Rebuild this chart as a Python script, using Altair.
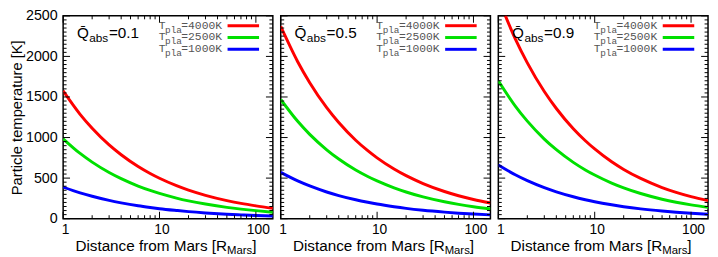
import altair as alt
import pandas as pd

# distances (R_Mars) at which curves were read
r_vals = [1, 1.5, 2, 3, 4, 6, 8, 10, 15, 20, 30, 50, 70, 100, 150]

# Q_abs = 0.1
q01_4000 = [1575, 1286, 1114, 909, 788, 643, 557, 498, 407, 352, 288, 223, 188, 158, 129]
q01_2500 = [985, 804, 697, 569, 493, 402, 348, 311, 254, 220, 180, 139, 118, 99, 80]
q01_1000 = [390, 318, 276, 225, 195, 159, 138, 123, 101, 87, 71, 55, 47, 39, 32]
# Q_abs = 0.5
q05_4000 = [2370, 1935, 1676, 1368, 1185, 967, 838, 749, 612, 530, 433, 335, 283, 237, 193]
q05_2500 = [1470, 1200, 1039, 849, 735, 600, 520, 465, 380, 329, 268, 208, 176, 147, 120]
q05_1000 = [570, 465, 403, 329, 285, 233, 202, 180, 147, 127, 104, 81, 68, 57, 47]
# Q_abs = 0.9
q09_4000 = [2715, 2217, 1920, 1567, 1358, 1108, 960, 859, 701, 607, 496, 384, 325, 272, 222]
q09_2500 = [1700, 1388, 1202, 981, 850, 694, 601, 538, 439, 380, 310, 240, 203, 170, 139]
q09_1000 = [662, 541, 468, 382, 331, 270, 234, 209, 171, 148, 121, 94, 79, 66, 54]

q_labels = ["0.1", "0.5", "0.9"]
tpla_labels = ["4000K", "2500K", "1000K"]
colors = ["#ff0000", "#00e000", "#0000ff"]
y_major = [0, 500, 1000, 1500, 2000, 2500]
y_minor = [v for v in range(50, 2500, 50) if v % 500 != 0]
x_major = [1, 10, 100]
x_minor = [2, 3, 4, 5, 6, 7, 8, 9, 20, 30, 40, 50, 60, 70, 80, 90]

W, H = 213, 206
FONT = "Liberation Sans"
MONO = "Liberation Mono"


def txt(text, x, y, size, font=FONT, color="black", align="left", baseline="alphabetic"):
    return alt.Chart(pd.DataFrame({"a": [0]})).mark_text(
        text=text, font=font, fontSize=size, color=color, align=align, baseline=baseline
    ).encode(x=alt.value(x), y=alt.value(y))


def panel(qlab, series, first):
    rows = []
    for name, vals in zip(tpla_labels, series):
        for r, t in zip(r_vals, vals):
            rows.append({"r": r, "T": t, "s": name})
    df = pd.DataFrame(rows)
    xsc = alt.Scale(type="log", domain=[1, 150], nice=False)
    ysc = alt.Scale(domain=[0, 2500], nice=False, zero=False)
    xax = alt.Axis(values=x_major, format="d", ticks=False, domain=False, grid=False,
                   labelFontSize=14, labelFont=FONT, labelColor="black", labelPadding=4,
                   labelFlush=False, labelOffset=2, title=None)
    if first:
        yax = alt.Axis(values=y_major, format="d", ticks=False, domain=False, grid=False,
                       labelFontSize=14.5, labelFont=FONT, labelColor="black", labelPadding=6,
                       title="Particle temperature [K]", titleFont=FONT, titleFontSize=15,
                       titleFontWeight="normal", titleColor="black", titlePadding=1)
    else:
        yax = None

    lines = alt.Chart(df).mark_line(strokeWidth=3, clip=True, interpolate="monotone").encode(
        x=alt.X("r:Q", scale=xsc, axis=xax),
        y=alt.Y("T:Q", scale=ysc, axis=yax),
        color=alt.Color("s:N", scale=alt.Scale(domain=tpla_labels, range=colors), legend=None),
    )

    def ytick(vals, x1, x2):
        return alt.Chart(pd.DataFrame({"T": vals})).mark_rule(color="black", strokeWidth=1).encode(
            y=alt.Y("T:Q", scale=ysc, axis=yax), x=alt.value(x1), x2=alt.value(x2))

    def xtick(vals, y1, y2):
        return alt.Chart(pd.DataFrame({"r": vals})).mark_rule(color="black", strokeWidth=1).encode(
            x=alt.X("r:Q", scale=xsc, axis=xax), y=alt.value(y1), y2=alt.value(y2))

    ticks = [
        ytick(y_major, 0, 7), ytick(y_major, W - 7, W),
        ytick(y_minor, 0, 3.5), ytick(y_minor, W - 3.5, W),
        xtick(x_major, H, H - 7), xtick(x_major, 0, 7),
        xtick(x_minor, H, H - 3.5), xtick(x_minor, 0, 3.5),
    ]

    texts = [
        txt("Q\u0304", 14, 22.5, 15.5),
        txt("abs", 26.5, 26.5, 12),
        txt("=" + qlab, 46.5, 22.5, 15.5),
    ]
    for k, (name, col) in enumerate(zip(tpla_labels, colors)):
        yy = 10 + 12 * k
        texts.append(txt("T", W - 116, yy, 11.5, font=MONO, color="#555555", baseline="middle"))
        texts.append(txt("pla", W - 109.5, yy + 4, 9.5, font=MONO, color="#555555", baseline="middle"))
        texts.append(txt("=" + name, W - 93, yy, 11.5, font=MONO, color="#555555", baseline="middle"))
        texts.append(alt.Chart(pd.DataFrame({"a": [0]})).mark_rule(color=col, strokeWidth=3).encode(
            x=alt.value(W - 46), x2=alt.value(W - 14), y=alt.value(yy)))

    X0 = W / 2 + 60
    texts += [
        txt("Distance from Mars [R", X0, H + 33, 15.5, align="right"),
        txt("Mars", X0, H + 36, 11.5),
        txt("]", X0 + 25.5, H + 33, 15.5),
    ]

    return alt.layer(lines, *ticks, *texts).properties(width=W, height=H)


p1 = panel(q_labels[0], [q01_4000, q01_2500, q01_1000], True)
p2 = panel(q_labels[1], [q05_4000, q05_2500, q05_1000], False)
p3 = panel(q_labels[2], [q09_4000, q09_2500, q09_1000], False)

chart = alt.hconcat(p1, p2, p3, spacing=8, bounds="flush").properties(
    padding={"left": 0, "top": -3, "right": 0, "bottom": 0}
).configure_view(stroke="black", strokeWidth=1.5)

chart.save("out.html", embed_options={"renderer": "svg", "actions": False})
